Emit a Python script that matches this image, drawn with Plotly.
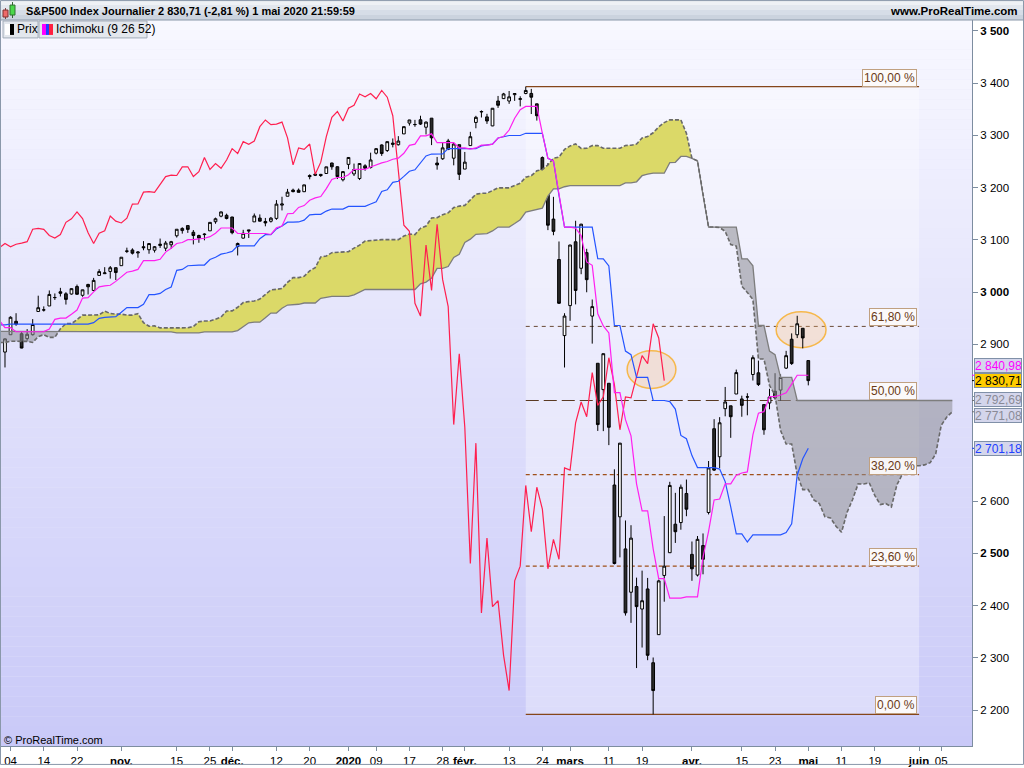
import plotly.graph_objects as go

# ---------------- DATA ----------------
# Warm-up bars (13 Jun 2019 -> 2 Oct 2019), needed only for the Ichimoku look-back
PRE_HIGH = [2895.24, 2894.45, 2897.27, 2930.79, 2931.74, 2958.06, 2964.15, 2954.92, 2946.52, 2932.59, 2929.26, 2943.98,
            2977.93, 2973.21, 2995.84, 2994.03, 2980.76, 2981.90, 3002.98, 3002.33, 3013.92, 3017.80, 3015.02, 3005.26,
            2995.11, 3006.46, 2990.71, 3005.90, 3019.59, 3016.31, 3027.98, 3025.61, 3017.19, 3017.40,
            3013.59, 2945.50, 2898.07, 2884.40, 2892.17, 2938.72, 2935.75, 2909.51, 2943.31, 2893.86, 2865.01, 2893.63,
            2931.00, 2923.63, 2928.73, 2939.08, 2927.01, 2879.27, 2898.79, 2890.03, 2930.50, 2940.43,
            2914.39, 2938.84, 2985.86, 2985.03, 2989.43, 2979.39, 3000.93, 3020.74, 3017.33, 3002.19, 3006.21, 3007.83,
            3021.99, 3016.37, 2999.15, 3007.98, 2989.82, 2987.28, 2987.31, 2983.83, 2992.53, 2924.78]
PRE_LOW = [2881.99, 2879.62, 2886.89, 2905.44, 2911.43, 2931.50, 2946.87, 2944.05, 2916.01, 2912.99, 2918.57, 2929.05,
           2952.22, 2955.92, 2977.96, 2967.97, 2970.09, 2963.44, 2984.62, 2988.80, 3001.87, 3008.77, 3001.15, 2984.25,
           2969.10, 2975.86, 2976.65, 2988.56, 2996.82, 2997.24, 3012.59, 3014.30, 3000.94, 2958.08,
           2945.23, 2914.11, 2822.12, 2847.42, 2825.71, 2894.47, 2900.15, 2873.64, 2877.05, 2839.64, 2825.71, 2864.99,
           2913.48, 2899.60, 2917.91, 2904.51, 2834.97, 2856.00, 2860.59, 2853.05, 2905.67, 2913.32,
           2891.85, 2921.86, 2960.40, 2972.51, 2969.39, 2957.01, 2975.31, 3000.92, 3002.90, 2990.67, 2993.73, 2978.57,
           3003.16, 2984.68, 2982.23, 2957.73, 2952.86, 2963.71, 2945.53, 2967.54, 2938.70, 2874.93]

# Visible daily bars, 3 Oct 2019 -> 1 May 2020 (bar index 0 .. 145)
OPEN = [2885.38, 2918.56, 2944.23, 2920.40, 2911.10, 2918.55, 2963.07, 2965.81, 2973.61, 2989.68, 3000.77, 2996.84,
        2996.48, 3010.73, 2994.01, 3014.78, 3003.32, 3032.12, 3035.39, 3039.74, 3046.90, 3050.72, 3078.96, 3080.80,
        3075.10, 3087.02, 3081.25, 3080.33, 3089.28, 3084.18, 3090.75, 3107.92, 3117.91, 3127.45, 3114.66, 3108.49,
        3111.41, 3117.44, 3134.85, 3145.49, 3147.18, 3143.85, 3087.41, 3103.50, 3119.21, 3134.62, 3141.86, 3135.36,
        3135.75, 3141.23, 3166.65, 3183.63, 3195.40, 3195.21, 3192.32, 3223.33, 3226.05, 3225.45, 3227.20, 3247.23,
        3240.09, 3215.18, 3244.67, 3226.36, 3217.55, 3241.86, 3238.59, 3266.03, 3281.81, 3271.13, 3285.35, 3282.27,
        3302.97, 3323.66, 3321.03, 3330.02, 3315.77, 3333.10, 3247.16, 3255.35, 3289.46, 3256.45, 3282.33, 3235.66,
        3280.61, 3324.91, 3344.92, 3335.54, 3318.28, 3365.87, 3370.50, 3365.90, 3378.08, 3369.04, 3380.39, 3380.45,
        3360.50, 3257.61, 3238.94, 3139.90, 3062.54, 2916.90, 2974.28, 3096.46, 3045.75, 3075.70, 2954.20, 2863.89,
        2813.48, 2825.60, 2630.86, 2569.99, 2508.59, 2425.66, 2436.50, 2393.48, 2431.94, 2290.71, 2344.44, 2457.77,
        2501.29, 2555.87, 2558.98, 2614.69, 2498.08, 2458.54, 2514.92, 2578.28, 2738.65, 2685.00, 2776.99, 2782.46,
        2805.10, 2795.64, 2799.34, 2842.43, 2845.62, 2784.81, 2787.89, 2810.42, 2812.64, 2854.65, 2909.96, 2918.46,
        2930.91, 2869.09]
HIGH = [2911.13, 2953.74, 2959.75, 2925.47, 2929.32, 2948.46, 2993.28, 2972.84, 3003.28, 2997.54, 3008.29, 3000.00,
        3007.33, 3014.57, 3004.78, 3016.07, 3027.39, 3044.08, 3047.87, 3050.10, 3046.90, 3066.95, 3085.20, 3083.95,
        3078.34, 3097.77, 3093.09, 3088.33, 3102.61, 3098.06, 3098.20, 3120.46, 3124.17, 3127.64, 3118.97, 3110.11,
        3112.87, 3133.83, 3142.69, 3154.26, 3150.30, 3144.31, 3094.97, 3119.38, 3119.45, 3150.60, 3148.87, 3142.12,
        3143.98, 3176.28, 3182.68, 3197.71, 3198.22, 3198.48, 3205.48, 3225.65, 3227.78, 3226.43, 3240.08, 3247.93,
        3240.92, 3231.72, 3258.14, 3246.15, 3246.84, 3244.91, 3267.07, 3275.58, 3282.99, 3288.13, 3294.25, 3298.66,
        3317.11, 3329.88, 3329.79, 3337.77, 3326.88, 3333.18, 3258.85, 3285.78, 3293.47, 3285.91, 3282.33, 3268.44,
        3306.92, 3337.58, 3347.96, 3341.42, 3352.26, 3375.63, 3381.47, 3385.09, 3380.69, 3375.01, 3393.52, 3389.15,
        3360.76, 3259.81, 3246.99, 3182.51, 3097.07, 2959.72, 3090.96, 3136.72, 3130.97, 3083.04, 2985.93, 2863.89,
        2882.59, 2825.60, 2660.95, 2711.33, 2562.98, 2553.93, 2453.57, 2466.97, 2453.01, 2300.73, 2449.71, 2571.42,
        2637.01, 2615.91, 2631.80, 2641.39, 2522.75, 2533.22, 2538.18, 2676.85, 2756.89, 2760.75, 2818.57, 2782.46,
        2851.85, 2801.88, 2806.51, 2879.22, 2868.98, 2785.54, 2815.10, 2844.90, 2842.71, 2887.72, 2921.15, 2954.86,
        2930.91, 2869.09]
LOW = [2855.94, 2918.56, 2935.68, 2892.66, 2907.41, 2917.12, 2963.07, 2962.94, 2973.61, 2985.20, 2991.79, 2976.31,
       2995.35, 2995.04, 2991.21, 2995.61, 3001.94, 3032.12, 3034.81, 3025.96, 3023.19, 3050.72, 3074.87, 3072.15,
       3065.89, 3080.23, 3073.58, 3075.82, 3084.73, 3078.80, 3083.26, 3104.60, 3112.06, 3113.47, 3091.41, 3094.55,
       3099.26, 3117.44, 3131.00, 3143.41, 3139.34, 3110.78, 3070.33, 3102.53, 3103.76, 3134.62, 3135.46, 3126.09,
       3133.21, 3138.47, 3156.51, 3183.63, 3191.03, 3191.14, 3191.72, 3216.03, 3222.30, 3220.51, 3227.20, 3234.37,
       3216.57, 3212.03, 3235.53, 3222.34, 3214.64, 3232.43, 3236.67, 3263.67, 3260.86, 3268.43, 3277.19, 3280.69,
       3302.82, 3318.86, 3316.61, 3320.04, 3301.87, 3281.53, 3234.50, 3253.22, 3271.89, 3242.80, 3214.68, 3235.66,
       3280.61, 3313.75, 3334.39, 3322.12, 3317.77, 3352.72, 3369.72, 3360.52, 3366.15, 3355.61, 3378.83, 3341.02,
       3328.45, 3214.65, 3118.77, 3108.99, 2977.39, 2855.84, 2945.19, 2976.63, 3034.38, 2999.83, 2901.54, 2734.43,
       2734.00, 2707.22, 2478.86, 2492.37, 2380.94, 2367.04, 2280.52, 2319.78, 2295.56, 2191.86, 2344.44, 2407.53,
       2500.72, 2520.02, 2545.28, 2571.15, 2447.49, 2455.79, 2459.96, 2574.57, 2657.67, 2663.30, 2762.36, 2721.17,
       2805.10, 2761.54, 2764.32, 2830.88, 2820.43, 2727.10, 2775.95, 2794.26, 2791.76, 2852.89, 2860.71, 2912.16,
       2892.47, 2821.61]
CLOSE = [2910.63, 2952.01, 2938.79, 2893.06, 2919.40, 2938.13, 2970.27, 2966.15, 2995.68, 2989.69, 2997.95, 2986.20,
         3006.72, 2995.99, 3004.52, 3010.29, 3022.55, 3039.42, 3036.89, 3046.77, 3037.56, 3066.91, 3078.27, 3074.62,
         3076.78, 3085.18, 3093.08, 3087.01, 3091.84, 3094.04, 3096.63, 3120.46, 3122.03, 3120.18, 3108.46, 3103.54,
         3110.29, 3133.64, 3140.52, 3153.63, 3140.98, 3113.87, 3093.20, 3112.76, 3117.43, 3145.91, 3135.96, 3132.52,
         3141.63, 3168.57, 3168.80, 3191.45, 3192.52, 3191.14, 3205.37, 3221.22, 3224.01, 3223.38, 3239.91, 3240.02,
         3221.29, 3230.78, 3257.85, 3234.85, 3246.28, 3237.18, 3253.05, 3274.70, 3265.35, 3288.13, 3283.15, 3289.29,
         3316.81, 3329.62, 3320.79, 3321.75, 3325.54, 3295.47, 3243.63, 3276.24, 3273.40, 3283.66, 3225.52, 3248.92,
         3297.59, 3334.69, 3345.78, 3327.71, 3352.09, 3357.75, 3379.45, 3373.94, 3380.16, 3370.29, 3386.15, 3373.23,
         3337.75, 3225.89, 3128.21, 3116.39, 2978.76, 2954.22, 3090.23, 3003.37, 3130.12, 3023.94, 2972.37, 2746.56,
         2882.23, 2741.38, 2480.64, 2711.02, 2386.13, 2529.19, 2398.10, 2409.39, 2304.92, 2237.40, 2447.33, 2475.56,
         2630.07, 2541.47, 2626.65, 2584.59, 2470.50, 2526.90, 2488.65, 2663.68, 2659.41, 2749.98, 2789.82, 2761.63,
         2846.06, 2783.36, 2799.55, 2874.56, 2823.16, 2736.56, 2799.31, 2797.80, 2836.74, 2878.48, 2863.39, 2939.51,
         2912.43, 2830.71]

# x-axis labels (bar index of the labelled day)
X_TICK_POS = [1, 7, 13, 21, 31, 37, 41, 49, 55, 62, 67, 73, 79, 83, 91, 97, 102, 109, 115, 124, 133, 139, 145, 151, 157, 165, 169]
X_TICK_TEXT = ["04", "14", "22", "<b>nov.</b>", "15", "25", "<b>déc.</b>", "12", "20", "<b>2020</b>", "09", "17", "28",
               "<b>févr.</b>", "13", "24", "<b>mars</b>", "11", "19", "<b>avr.</b>", "15", "23", "<b>mai</b>", "11", "19",
               "<b>juin</b>", "05"]
# 2 700 and 2 800 are hidden behind the value tags in the reference
Y_TICK_POS = [2200, 2300, 2400, 2500, 2600, 2700, 2800, 2900, 3000, 3100, 3200, 3300, 3400, 3500]
Y_TICK_TEXT = ["2 200", "2 300", "2 400", "<b>2 500</b>", "2 600", "", "", "2 900", "<b>3 000</b>",
               "3 100", "3 200", "3 300", "3 400", "<b>3 500</b>"]

# Fibonacci retracement (Feb 19 high -> Mar 23 low)
FIB_HIGH = 3393.52
FIB_LOW = 2191.86
FIB_START, FIB_END = 94, 165
FIB_RATIOS = [1.0, 0.618, 0.5, 0.382, 0.236, 0.0]
FIB_TEXT = ["100,00 %", "61,80 %", "50,00 %", "38,20 %", "23,60 %", "0,00 %"]

# Right-axis value tags
TAG_VALUES = [2840.98, 2830.71, 2792.69, 2771.08, 2701.18]
TAG_TEXT = ["2 840,98", "2 830,71", "2 792,69", "2 771,08", "2 701,18"]

# Highlight ellipses (bar index range, price range)
ELLIPSES = [(112.3, 121.1, 2815.7, 2888.1), (139.2, 148.2, 2893.8, 2962.4)]

TENKAN_N, KIJUN_N, SENKOU_N, SHIFT = 9, 26, 52, 26

# ---------------- ICHIMOKU (9 26 52) ----------------
H = PRE_HIGH + HIGH
L = PRE_LOW + LOW
OFF = len(PRE_HIGH)
NB = len(CLOSE)


def mid(k, n):
    a = k + OFF
    return (max(H[a - n + 1:a + 1]) + min(L[a - n + 1:a + 1])) / 2


bars = list(range(-1, NB))
tenkan = [mid(k, TENKAN_N) for k in bars]
kijun = [mid(k, KIJUN_N) for k in bars]
cloud_x = list(range(-1, NB + SHIFT))
ssa = [(mid(j - SHIFT, TENKAN_N) + mid(j - SHIFT, KIJUN_N)) / 2 for j in cloud_x]
ssb = [mid(j - SHIFT, SENKOU_N) for j in cloud_x]
chikou_x = [k - SHIFT for k in range(SHIFT - 1, NB)]
chikou_y = [CLOSE[k] for k in range(SHIFT - 1, NB)]


def with_crossings(xs, a, b):
    X, A2, B2 = [xs[0]], [a[0]], [b[0]]
    for i in range(1, len(xs)):
        d0 = a[i - 1] - b[i - 1]
        d1 = a[i] - b[i]
        if d0 * d1 < 0:
            t = d0 / (d0 - d1)
            xc = xs[i - 1] + t * (xs[i] - xs[i - 1])
            yc = a[i - 1] + t * (a[i] - a[i - 1])
            X.append(xc); A2.append(yc); B2.append(yc)
        X.append(xs[i]); A2.append(a[i]); B2.append(b[i])
    return X, A2, B2


cx, ca, cb = with_crossings(cloud_x, ssa, ssb)
top_k = [max(p, q) for p, q in zip(ca, cb)]
bot_g = [min(p, q) for p, q in zip(ca, cb)]

# ---------------- FIGURE ----------------
PL, PR, PT, PB = 1, 972, 20, 749
W, HH = 1024, 768
X_RANGE = [-0.72, 174.55]
Y_RANGE = [2131.3, 3521.0]


def fx(px):
    return (px - PL) / (PR - PL)


def fy(py):
    return (PB - py) / (PB - PT)


fig = go.Figure()

KHAKI = "rgb(219,217,104)"
GRAYC = "rgba(140,140,148,0.55)"
fig.add_trace(go.Scatter(x=cx, y=cb, mode="lines", line=dict(width=0), hoverinfo="skip"))
fig.add_trace(go.Scatter(x=cx, y=top_k, mode="lines", line=dict(width=0), fill="tonexty", fillcolor=KHAKI, hoverinfo="skip"))
fig.add_trace(go.Scatter(x=cx, y=cb, mode="lines", line=dict(width=0), hoverinfo="skip"))
fig.add_trace(go.Scatter(x=cx, y=bot_g, mode="lines", line=dict(width=0), fill="tonexty", fillcolor=GRAYC, hoverinfo="skip"))
fig.add_trace(go.Scatter(x=cloud_x, y=ssb, mode="lines", line=dict(color="rgb(125,125,125)", width=1.3)))
fig.add_trace(go.Scatter(x=cloud_x, y=ssa, mode="lines", line=dict(color="rgb(105,105,105)", width=1.6, dash="4px,2px")))

fig.add_trace(go.Scatter(x=chikou_x, y=chikou_y, mode="lines", line=dict(color="#ff1f4f", width=1.2)))
fig.add_trace(go.Scatter(x=bars, y=kijun, mode="lines", line=dict(color="#2454ff", width=1.2)))
fig.add_trace(go.Scatter(x=bars, y=tenkan, mode="lines", line=dict(color="#ff1ff0", width=1.2)))

fig.add_trace(go.Candlestick(
    x=list(range(NB)), open=OPEN, high=HIGH, low=LOW, close=CLOSE,
    increasing=dict(line=dict(color="black", width=1), fillcolor="white"),
    decreasing=dict(line=dict(color="black", width=1), fillcolor="#2a2a2a"),
    whiskerwidth=0, hoverinfo="skip"))

shapes = []
# plot background gradient
NBANDS = 73
top_c = (248, 248, 255)
bot_c = (201, 201, 248)
for b in range(NBANDS):
    t = (b + 0.5) / NBANDS
    col = tuple(round(top_c[i] + (bot_c[i] - top_c[i]) * t) for i in range(3))
    y0 = PT + (PB - PT) * b / NBANDS
    y1 = PT + (PB - PT) * (b + 1) / NBANDS
    shapes.append(dict(type="rect", xref="paper", yref="paper", x0=0, x1=1, y0=fy(y1), y1=fy(y0),
                       line=dict(width=0), fillcolor="rgb(%d,%d,%d)" % col, layer="below"))
# fib box overlay
shapes.append(dict(type="rect", xref="x", yref="y", x0=FIB_START, x1=FIB_END, y0=FIB_LOW, y1=FIB_HIGH,
                   line=dict(width=0), fillcolor="rgba(255,255,255,0.33)", layer="below"))
fib_styles = [
    dict(color="#85461a", width=1.2, dash="solid"),
    dict(color="#6a4a36", width=1, dash="4px,4px"),
    dict(color="#5a3a22", width=1.2, dash="13px,5px"),
    dict(color="#a0501a", width=1.2, dash="4px,3px"),
    dict(color="#a0501a", width=1.2, dash="4px,3px"),
    dict(color="#85461a", width=1.2, dash="solid"),
]
fib_levels = [FIB_LOW + r * (FIB_HIGH - FIB_LOW) for r in FIB_RATIOS]
for lv, st in zip(fib_levels, fib_styles):
    shapes.append(dict(type="line", xref="x", yref="y", x0=FIB_START, x1=FIB_END, y0=lv, y1=lv,
                       line=st, layer="below"))
# ellipses
for (x0, x1, y0, y1) in ELLIPSES:
    shapes.append(dict(type="circle", xref="x", yref="y", x0=x0, x1=x1, y0=y0, y1=y1,
                       line=dict(color="#f6b84c", width=1.5), fillcolor="rgba(255,190,120,0.28)", layer="below"))

# header bar
hdr = [(0, 5, "#eef1f5"), (5, 10, "#e2e7ee"), (10, 15, "#d6dde7"), (15, 20, "#cbd3de")]
for y0, y1, c in hdr:
    shapes.append(dict(type="rect", xref="paper", yref="paper", x0=fx(0), x1=fx(W), y0=fy(y1), y1=fy(y0),
                       line=dict(width=0), fillcolor=c))
shapes.append(dict(type="line", xref="paper", yref="paper", x0=fx(0), x1=fx(W), y0=fy(20), y1=fy(20),
                   line=dict(color="#8a98aa", width=1)))
# header icon: two little candles
shapes += [
    dict(type="line", xref="paper", yref="paper", x0=fx(5.5), x1=fx(5.5), y0=fy(19), y1=fy(8), line=dict(color="#804040", width=1)),
    dict(type="rect", xref="paper", yref="paper", x0=fx(3), x1=fx(8), y0=fy(17), y1=fy(10), line=dict(color="#803030", width=1), fillcolor="#ee6a6a"),
    dict(type="line", xref="paper", yref="paper", x0=fx(12.5), x1=fx(12.5), y0=fy(18), y1=fy(2), line=dict(color="#306030", width=1)),
    dict(type="rect", xref="paper", yref="paper", x0=fx(10), x1=fx(15), y0=fy(15), y1=fy(5), line=dict(color="#307030", width=1), fillcolor="#4ad84a"),
]
# legend boxes
shapes += [
    dict(type="rect", xref="paper", yref="paper", x0=fx(3), x1=fx(38), y0=fy(38), y1=fy(21), line=dict(color="#a2acb8", width=1), fillcolor="#e3e7ed"),
    dict(type="rect", xref="paper", yref="paper", x0=fx(39), x1=fx(147), y0=fy(38), y1=fy(21), line=dict(color="#a2acb8", width=1), fillcolor="#e3e7ed"),
    dict(type="rect", xref="paper", yref="paper", x0=fx(5), x1=fx(10), y0=fy(35), y1=fy(24), line=dict(width=0), fillcolor="white"),
    dict(type="rect", xref="paper", yref="paper", x0=fx(10), x1=fx(14), y0=fy(35), y1=fy(24), line=dict(width=0), fillcolor="black"),
    dict(type="rect", xref="paper", yref="paper", x0=fx(42), x1=fx(46), y0=fy(35), y1=fy(24), line=dict(width=0), fillcolor="#ff00ff"),
    dict(type="rect", xref="paper", yref="paper", x0=fx(46), x1=fx(49), y0=fy(35), y1=fy(24), line=dict(width=0), fillcolor="#2040ff"),
    dict(type="rect", xref="paper", yref="paper", x0=fx(49), x1=fx(53), y0=fy(35), y1=fy(24), line=dict(width=0), fillcolor="#ff2040"),
]
# left border of plot and outer frame
shapes.append(dict(type="line", xref="paper", yref="paper", x0=fx(0.5), x1=fx(0.5), y0=fy(20), y1=fy(PB),
                   line=dict(color="#8a98aa", width=1)))
shapes.append(dict(type="rect", xref="paper", yref="paper", x0=fx(0.5), x1=fx(W - 0.5), y0=fy(HH - 0.5), y1=fy(0.5),
                   line=dict(color="#8a98aa", width=1)))
# small ticks next to value tags
tag_tick_cols = ["#ff00ff", "black", "#707070", "#707070", "#2040ff"]
for v, c in zip(TAG_VALUES, tag_tick_cols):
    shapes.append(dict(type="line", xref="paper", yref="y", x0=fx(972), x1=fx(977), y0=v, y1=v,
                       line=dict(color=c, width=1)))

annotations = []
FONT = "Liberation Sans, Arial, sans-serif"
annotations.append(dict(xref="paper", yref="paper", x=fx(24), y=fy(10.5), xanchor="left", yanchor="middle",
                        text="<b>S&P500 Index Journalier 2 830,71 (-2,81 %) 1 mai 2020 21:59:59</b>", showarrow=False,
                        font=dict(family=FONT, size=11, color="black")))
annotations.append(dict(xref="paper", yref="paper", x=fx(1020), y=fy(10.5), xanchor="right", yanchor="middle",
                        text="<b>www.ProRealTime.com</b>", showarrow=False, font=dict(family=FONT, size=11.5, color="black")))
annotations.append(dict(xref="paper", yref="paper", x=fx(15), y=fy(29.5), xanchor="left", yanchor="middle",
                        text="Prix", showarrow=False, font=dict(family=FONT, size=12, color="black")))
annotations.append(dict(xref="paper", yref="paper", x=fx(54), y=fy(29.5), xanchor="left", yanchor="middle",
                        text="Ichimoku (9 26 52)", showarrow=False, font=dict(family=FONT, size=12, color="black")))
annotations.append(dict(xref="paper", yref="paper", x=fx(2), y=fy(743), xanchor="left", yanchor="middle",
                        text="© ProRealTime.com", showarrow=False, font=dict(family=FONT, size=11, color="black")))
# fib labels
for lv, t in zip(fib_levels, FIB_TEXT):
    annotations.append(dict(xref="x", yref="y", x=FIB_END - 0.3, y=lv, xanchor="right", yanchor="bottom",
                            text=t, showarrow=False, bgcolor="rgba(252,250,250,0.95)", bordercolor="#c0a080",
                            borderwidth=1, borderpad=1, font=dict(family=FONT, size=12, color="#6a3a16")))
# value tags on the right axis
tag_style = [
    dict(fc="#ff00ff", bg="#d4d6ec", yshift=10),
    dict(fc="black", bg="#ffcc00", yshift=0),
    dict(fc="#8a8a96", bg="#d4d6ec", yshift=1),
    dict(fc="#8a8a96", bg="#d4d6ec", yshift=-4),
    dict(fc="#2040ff", bg="#d4d6ec", yshift=0),
]
for v, t, st in zip(TAG_VALUES, TAG_TEXT, tag_style):
    annotations.append(dict(xref="paper", yref="y", x=fx(974), y=v, xanchor="left", yanchor="middle",
                            yshift=st["yshift"], text=t, showarrow=False, bgcolor=st["bg"], bordercolor="#8090a8",
                            borderwidth=1, borderpad=0, width=46, height=13, align="left",
                            font=dict(family=FONT, size=12, color=st["fc"])))

fig.update_layout(
    width=W, height=HH,
    margin=dict(l=PL, r=W - PR, t=PT, b=HH - PB),
    paper_bgcolor="white", plot_bgcolor="#e6e6f8",
    showlegend=False,
    font=dict(family=FONT, size=11, color="black"),
    shapes=shapes, annotations=annotations,
    xaxis=dict(range=X_RANGE, showgrid=False, zeroline=False, tickmode="array", tickvals=X_TICK_POS,
               ticktext=X_TICK_TEXT, ticks="outside", ticklen=4, tickcolor="#7d8da0", showline=True,
               linecolor="#7d8da0", rangeslider=dict(visible=False), tickfont=dict(size=11.5)),
    yaxis=dict(range=Y_RANGE, side="right", showgrid=False, zeroline=False, tickmode="array",
               tickvals=Y_TICK_POS, ticktext=Y_TICK_TEXT, ticks="outside", ticklen=5, tickcolor="#7d8da0",
               showline=True, linecolor="#7d8da0", tickfont=dict(size=11.5)),
)

fig.write_html("out.html", config={"displayModeBar": False},
               post_script="document.body.style.margin='0px';document.body.style.overflow='hidden';")
